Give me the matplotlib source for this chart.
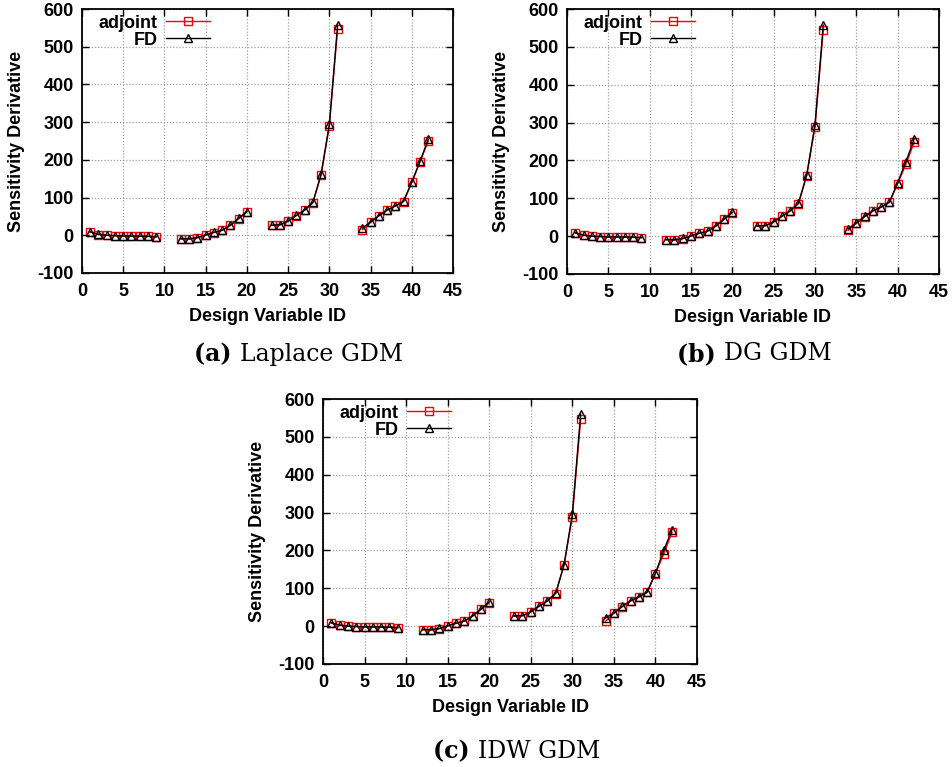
import numpy as np
import matplotlib
matplotlib.use("Agg")
import matplotlib.pyplot as plt

# Design variable IDs, grouped in the four blocks of the geometry
ids_blocks = [
    list(range(1, 10)),
    list(range(12, 21)),
    list(range(23, 32)),
    list(range(34, 43)),
]

# Laplace GDM
laplace_adjoint = [
    [8, 2, 0, -1, -2, -2, -3, -3, -4],
    [-10, -11, -7, 0, 7, 13, 26, 44, 62],
    [26, 27, 37, 52, 66, 86, 160, 290, 546],
    [15, 34, 51, 66, 77, 89, 140, 195, 250],
]
laplace_fd = [
    [9, 3, 0, -1, -2, -2, -2, -3, -4],
    [-9, -9, -6, 1, 8, 13, 27, 45, 63],
    [27, 28, 38, 53, 67, 87, 162, 294, 557],
    [19, 35, 52, 67, 78, 90, 141, 196, 255],
]

# DG GDM
dg_adjoint = [
    [8, 2, 0, -1, -2, -2, -3, -3, -4],
    [-10, -11, -7, 0, 7, 13, 26, 44, 62],
    [26, 27, 37, 52, 66, 86, 160, 289, 545],
    [15, 34, 51, 66, 76, 89, 139, 190, 248],
]
dg_fd = [
    [9, 3, 0, -1, -2, -2, -2, -3, -4],
    [-9, -9, -6, 1, 8, 13, 27, 45, 63],
    [27, 28, 38, 53, 67, 87, 162, 294, 557],
    [19, 35, 52, 67, 77, 90, 141, 197, 257],
]

# IDW GDM
idw_adjoint = [
    [8, 2, 0, -1, -2, -2, -3, -3, -4],
    [-10, -11, -7, 0, 7, 13, 26, 44, 61],
    [26, 27, 37, 52, 66, 86, 161, 289, 546],
    [13, 34, 51, 66, 76, 89, 139, 191, 248],
]
idw_fd = [
    [9, 3, 0, -1, -2, -2, -2, -3, -4],
    [-9, -9, -6, 1, 8, 13, 27, 45, 64],
    [27, 28, 38, 53, 67, 87, 162, 296, 560],
    [22, 35, 52, 67, 78, 90, 140, 200, 255],
]

panels = [
    ("(a)", "Laplace GDM", laplace_adjoint, laplace_fd),
    ("(b)", "DG GDM", dg_adjoint, dg_fd),
    ("(c)", "IDW GDM", idw_adjoint, idw_fd),
]

x_ticks = [0, 5, 10, 15, 20, 25, 30, 35, 40, 45]
y_ticks = [-100, 0, 100, 200, 300, 400, 500, 600]

plt.rcParams["font.family"] = ["Liberation Sans", "DejaVu Sans"]
plt.rcParams["axes.unicode_minus"] = False

W, H = 952, 767
fig = plt.figure(figsize=(W / 100, H / 100), dpi=100)

FS = 13

# axes rectangles in pixels: left, top, right, bottom
rects = [
    (82, 9, 453, 273),
    (567, 9, 939, 274),
    (323, 399, 697, 664),
]
captions_pos = [(240, 354), (724, 354), (478, 751)]

for (tag, name, adj, fd), (l, t, r, b), (cx, cy) in zip(panels, rects, captions_pos):
    ax = fig.add_axes([l / W, 1 - b / H, (r - l) / W, (b - t) / H])
    for k, (xs, ya) in enumerate(zip(ids_blocks, adj)):
        ax.plot(xs, ya, color="#ff0000", lw=1.0, marker="s", ms=5.5,
                mfc="none", mec="#ff0000", mew=1.0,
                label="adjoint" if k == 0 else None, zorder=3)
    for k, (xs, yf) in enumerate(zip(ids_blocks, fd)):
        ax.plot(xs, yf, color="black", lw=1.0, marker="^", ms=5.5,
                mfc="none", mec="black", mew=1.0,
                label="FD" if k == 0 else None, zorder=4)
    ax.set_xlim(0, 45)
    ax.set_ylim(-100, 600)
    ax.set_xticks(x_ticks)
    ax.set_yticks(y_ticks)
    ax.grid(True, color="#a0a0a0", linestyle=(0, (1, 1.5)), lw=0.9)
    ax.set_axisbelow(True)
    ax.tick_params(direction="in", length=5, width=1, top=True, right=True,
                   labelsize=FS)
    for lab in ax.get_xticklabels() + ax.get_yticklabels():
        lab.set_fontweight("bold")
    ax.tick_params(axis="x", pad=7)
    ax.tick_params(axis="y", pad=6)
    for s in ax.spines.values():
        s.set_linewidth(1.3)
    ax.set_xlabel("Design Variable ID", fontsize=FS, fontweight="bold", labelpad=6)
    ax.set_ylabel("Sensitivity Derivative", fontsize=FS, fontweight="bold", labelpad=9)
    leg = ax.legend(loc="upper left", bbox_to_anchor=(0.015, 1.02), frameon=False,
                    markerfirst=False, prop={"weight": "bold", "size": FS},
                    handlelength=2.4, handletextpad=0.5, labelspacing=0.0,
                    borderaxespad=0.2)
    for txt in leg.get_texts():
        txt.set_ha("right")
    leg._legend_box.align = "right"

    fig.text(cx / W, 1 - cy / H, tag + " ", fontsize=17, fontweight="bold",
             family="DejaVu Serif", ha="right", va="center")
    fig.text(cx / W, 1 - cy / H, name, fontsize=17, family="DejaVu Serif",
             ha="left", va="center")

fig.savefig("out.png", dpi=100)
